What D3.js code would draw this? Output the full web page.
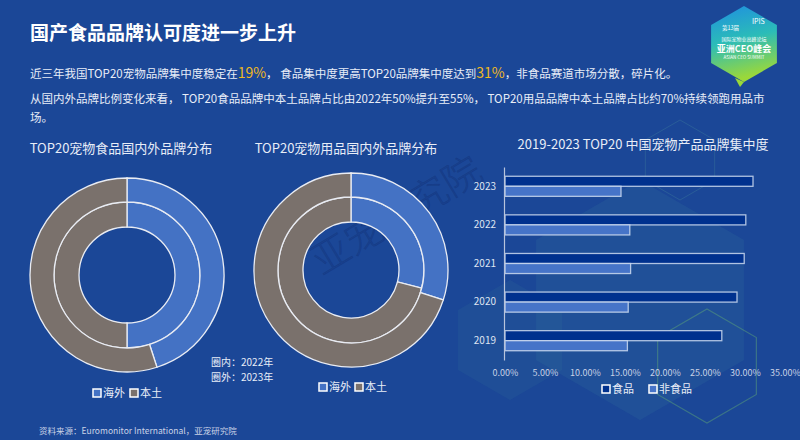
<!DOCTYPE html>
<html>
<head>
<meta charset="utf-8">
<script src="https://cdn.jsdelivr.net/npm/d3@7"></script>
<style>
  html, body { margin: 0; padding: 0; background: #1b4797; }
  svg text { font-family: "Noto Sans CJK SC", "Noto Sans", sans-serif; }
</style>
</head>
<body>
<div id="chart-area"></div>
<script>
// ---- data ----
const years = ["2019", "2020", "2021", "2022", "2023"];
const foodConc = [0.271, 0.290, 0.299, 0.301, 0.310];
const nonFoodConc = [0.153, 0.154, 0.157, 0.156, 0.145];
const barSeries = ["食品", "非食品"];
const xTicks = [0, 0.05, 0.10, 0.15, 0.20, 0.25, 0.30, 0.35];

const brandTypes = ["海外", "本土"];
const foodShare2022 = [50, 50];
const foodShare2023 = [45, 55];
const supplyShare2022 = [29, 71];
const supplyShare2023 = [30, 70];

const svgWidth = 800;
const svgHeight = 440;

const svg = d3.select("#chart-area")
    .append("svg")
    .attr("width", svgWidth)
    .attr("height", svgHeight);

const defs = svg.append("defs");

svg.append("rect")
    .attr("width", svgWidth)
    .attr("height", svgHeight)
    .attr("fill", "#1b4797");

// background decoration
function hexPoints(cx, cy, r) {
    return d3.range(6).map(i => {
        const a = Math.PI / 3 * i - Math.PI / 2;
        return [cx + r * Math.cos(a), cy + r * Math.sin(a)];
    }).map(p => p.join(",")).join(" ");
}

svg.append("polygon")
    .attr("points", hexPoints(640, 300, 120))
    .attr("fill", "rgba(70,150,160,0.13)");
svg.append("polygon")
    .attr("points", hexPoints(510, 340, 60))
    .attr("fill", "rgba(70,150,160,0.10)");
svg.append("polygon")
    .attr("points", hexPoints(680, 160, 40))
    .attr("fill", "none")
    .attr("stroke", "rgba(90,170,160,0.22)");
svg.append("polygon")
    .attr("points", hexPoints(707, 366, 57))
    .attr("fill", "none")
    .attr("stroke", "rgba(110,190,110,0.38)")
    .attr("stroke-width", 1.2);

// watermark
svg.append("text")
    .attr("transform", "translate(398,218) rotate(-31)")
    .attr("text-anchor", "middle")
    .attr("dominant-baseline", "middle")
    .style("font-size", "38px")
    .style("font-weight", 300)
    .attr("fill", "rgba(10,30,90,0.16)")
    .attr("stroke", "rgba(10,30,90,0.22)")
    .attr("stroke-width", 0.6)
    .text("亚宠研究院");

// ---- header ----
svg.append("text")
    .attr("x", 30)
    .attr("y", 40)
    .attr("fill", "#ffffff")
    .style("font-size", "19px")
    .style("font-weight", "bold")
    .text("国产食品品牌认可度进一步上升");

const line1 = svg.append("text")
    .attr("x", 30)
    .attr("y", 78)
    .attr("fill", "#e8edf7")
    .style("font-size", "11.5px");
line1.append("tspan").text("近三年我国TOP20宠物品牌集中度稳定在");
line1.append("tspan").attr("fill", "#f0b81e").style("font-size", "14px").text("19%");
line1.append("tspan").text("，  食品集中度更高TOP20品牌集中度达到");
line1.append("tspan").attr("fill", "#f0b81e").style("font-size", "14px").text("31%");
line1.append("tspan").text("，非食品赛道市场分散，碎片化。");

svg.append("text")
    .attr("x", 30)
    .attr("y", 103)
    .attr("fill", "#e8edf7")
    .style("font-size", "11.5px")
    .text("从国内外品牌比例变化来看，  TOP20食品品牌中本土品牌占比由2022年50%提升至55%，  TOP20用品品牌中本土品牌占比约70%持续领跑用品市");

svg.append("text")
    .attr("x", 30)
    .attr("y", 122)
    .attr("fill", "#e8edf7")
    .style("font-size", "11.5px")
    .text("场。");

// ---- logo ----
const logoGrad = defs.append("linearGradient")
    .attr("id", "logo-grad")
    .attr("x1", "0%").attr("y1", "0%")
    .attr("x2", "20%").attr("y2", "100%");
logoGrad.selectAll("stop")
    .data([
        { offset: "0%", color: "#1f8fe0" },
        { offset: "50%", color: "#2bbcb8" },
        { offset: "100%", color: "#9ad83a" }
    ])
    .enter()
    .append("stop")
    .attr("offset", d => d.offset)
    .attr("stop-color", d => d.color);

const logo = svg.append("g");
logo.append("polygon")
    .attr("points", hexPoints(744, 44, 38))
    .attr("fill", "url(#logo-grad)");
logo.append("polygon")
    .attr("points", "735,78 744,82 740,87")
    .attr("fill", "#9ad83a");
logo.append("text").attr("x", 752).attr("y", 24).attr("fill", "#fff")
    .style("font-size", "7px").text("IPIS");
logo.append("text").attr("x", 722).attr("y", 30).attr("fill", "#fff")
    .style("font-size", "5.5px").text("第13届");
logo.append("text").attr("x", 744).attr("y", 41).attr("text-anchor", "middle").attr("fill", "#fff")
    .style("font-size", "5px").text("国际宠物业高峰论坛");
logo.append("text").attr("x", 744).attr("y", 52).attr("text-anchor", "middle").attr("fill", "#fff")
    .style("font-size", "9px").style("font-weight", "bold").text("亚洲CEO峰会");
logo.append("text").attr("x", 744).attr("y", 59).attr("text-anchor", "middle").attr("fill", "#fff")
    .style("font-size", "4.5px").text("ASIAN CEO SUMMIT");

// ---- donuts ----
const donutColors = d3.scaleOrdinal()
    .domain(brandTypes)
    .range(["#4472c4", "#7a716c"]);

const pie = d3.pie().sort(null);
const rHole = 48, rMid = 73, rOuter = 97;

function drawDonut(cx, cy, titleX, title, inner, outer) {
    const g = svg.append("g").attr("transform", `translate(${cx},${cy})`);

    const rings = [
        { values: inner, r0: rHole, r1: rMid },
        { values: outer, r0: rMid, r1: rOuter }
    ];
    rings.forEach(ring => {
        const arc = d3.arc().innerRadius(ring.r0).outerRadius(ring.r1);
        g.selectAll(null)
            .data(pie(ring.values))
            .enter()
            .append("path")
            .attr("d", arc)
            .attr("fill", (d, i) => donutColors(brandTypes[i]))
            .attr("stroke", "#e9ecf3")
            .attr("stroke-width", 1.3);
    });

    svg.append("text")
        .attr("x", titleX)
        .attr("y", 153)
        .attr("text-anchor", "middle")
        .attr("fill", "#e8edf7")
        .style("font-size", "13px")
        .text(title);
}

drawDonut(127, 275, 121, "TOP20宠物食品国内外品牌分布", foodShare2022, foodShare2023);
drawDonut(351, 270, 346, "TOP20宠物用品国内外品牌分布", supplyShare2022, supplyShare2023);

svg.append("text")
    .attr("x", 211).attr("y", 366)
    .attr("fill", "#e8edf7")
    .style("font-size", "10px")
    .text("圈内：2022年");
svg.append("text")
    .attr("x", 211).attr("y", 381)
    .attr("fill", "#e8edf7")
    .style("font-size", "10px")
    .text("圈外：2023年");

function drawLegend(x, y, labels, colors, gap) {
    const g = svg.append("g").attr("transform", `translate(${x},${y})`);
    labels.forEach((lab, i) => {
        const item = g.append("g").attr("transform", `translate(${i * gap},0)`);
        item.append("rect")
            .attr("x", -4).attr("y", -4)
            .attr("width", 8).attr("height", 8)
            .attr("fill", colors[i])
            .attr("stroke", "#ffffff")
            .attr("stroke-width", 1.5);
        item.append("text")
            .attr("x", 6)
            .attr("y", 4)
            .attr("fill", "#e8edf7")
            .style("font-size", "11px")
            .text(lab);
    });
}

drawLegend(97, 393, brandTypes, brandTypes.map(donutColors), 37);
drawLegend(323, 387, brandTypes, brandTypes.map(donutColors), 36);

// ---- bar chart ----
const xScale = d3.scaleLinear()
    .domain([0, 0.35])
    .range([505, 785]);

const yScale = d3.scaleBand()
    .domain(years.slice().reverse())
    .range([167, 360])
    .paddingInner(0.48)
    .paddingOuter(0.24);

const subScale = d3.scaleBand()
    .domain(barSeries)
    .range([0, yScale.bandwidth()]);

const barColors = ["#00318e", "#4674c8"];

svg.append("text")
    .attr("x", 643)
    .attr("y", 149)
    .attr("text-anchor", "middle")
    .attr("fill", "#e8edf7")
    .style("font-size", "13px")
    .text("2019-2023 TOP20 中国宠物产品品牌集中度");

const barData = years.map((y, i) => ({ year: y, values: [foodConc[i], nonFoodConc[i]] }));

const groups = svg.append("g")
    .selectAll("g")
    .data(barData)
    .enter()
    .append("g")
    .attr("transform", d => `translate(0,${yScale(d.year)})`);

groups.selectAll("rect")
    .data(d => d.values.map((v, i) => ({ key: barSeries[i], v, i })))
    .enter()
    .append("rect")
    .attr("x", xScale(0))
    .attr("y", d => subScale(d.key))
    .attr("width", d => xScale(d.v) - xScale(0))
    .attr("height", subScale.bandwidth())
    .attr("fill", d => barColors[d.i])
    .attr("stroke", "rgba(205,218,240,0.85)")
    .attr("stroke-width", 1.3);

const yAxisGroup = svg.append("g")
    .attr("transform", `translate(${xScale(0) - 1},0)`)
    .call(d3.axisLeft(yScale).tickSize(0).tickPadding(8));
yAxisGroup.select(".domain")
    .attr("stroke", "#b8c4dc")
    .attr("stroke-width", 1.2);
yAxisGroup.selectAll("text")
    .attr("fill", "#dfe5f2")
    .style("font-size", "10px");

const xAxisGroup = svg.append("g")
    .attr("transform", "translate(0,362)")
    .call(d3.axisBottom(xScale)
        .tickValues(xTicks)
        .tickFormat(d3.format(".2%"))
        .tickSize(0)
        .tickPadding(8));
xAxisGroup.select(".domain").remove();
xAxisGroup.selectAll("text")
    .attr("fill", "#c9d2e6")
    .style("font-size", "9px");

drawLegend(606, 389, barSeries, barColors, 47);

// ---- source ----
svg.append("text")
    .attr("x", 39)
    .attr("y", 434)
    .attr("fill", "#c9d2e6")
    .style("font-size", "8.5px")
    .text("资料来源：Euromonitor International，亚宠研究院");
</script>
</body>
</html>
